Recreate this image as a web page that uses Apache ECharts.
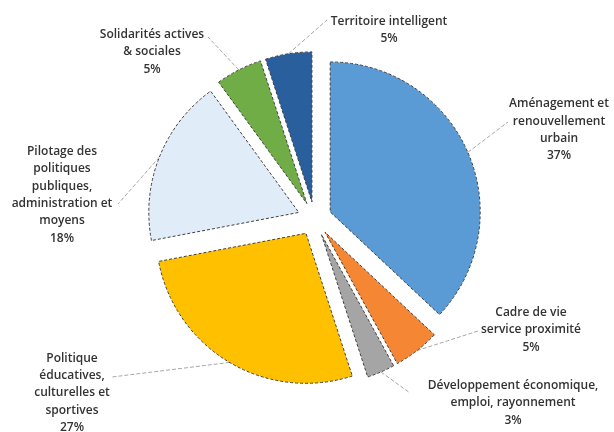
<!DOCTYPE html>
<html>
<head>
<meta charset="utf-8">
<script src="https://cdn.jsdelivr.net/npm/echarts@6/dist/echarts.min.js"></script>
<style>
  html, body { margin: 0; padding: 0; background: #fff; }
  #chart { width: 614px; height: 432px; }
</style>
</head>
<body>
<div id="chart"></div>
<script>
// categories, in clockwise order from 12 o'clock
const categories = [
  'Aménagement et\nrenouvellement\nurbain',
  'Cadre de vie\nservice proximité',
  'Développement économique,\nemploi, rayonnement',
  'Politique\néducatives,\nculturelles et\nsportives',
  'Pilotage des\npolitiques\npubliques,\nadministration et\nmoyens',
  'Solidarités actives\n& sociales',
  'Territoire intelligent'
]
// share in %
const values = [37, 5, 3, 27, 18, 5, 5]
const colors = ['#5B9BD5', '#F58634', '#A5A5A5', '#FFC000', '#E0ECF8', '#70AD47', '#2A5F9E']
// where each label sits (center of text block)
const labelPos = [
  [559, 130],
  [531, 330],
  [513, 403],
  [72, 393],
  [62, 195],
  [152, 52],
  [389, 30]
]
// where each leader line stops, next to its label
const lineEnd = [
  [508, 122],
  [478, 331],
  [410, 393],
  [112, 377],
  [118, 204],
  [208, 37],
  [327, 20]
]

const pieCenter = [314.6, 218.7]
const pieRadius = 150
const explode = 17

const chart = echarts.init(document.getElementById('chart'))

// each slice gets its own series so it can be pulled out from the center
const total = values.reduce((a, b) => a + b, 0)
let cum = 0
const series = values.map((v, i) => {
  const mid = (cum + v / 2) / total * Math.PI * 2
  cum += v
  const cx = pieCenter[0] + Math.sin(mid) * explode
  const cy = pieCenter[1] - Math.cos(mid) * explode
  return {
    type: 'pie',
    center: [cx, cy],
    radius: pieRadius,
    startAngle: 90,
    clockwise: true,
    silent: true,
    avoidLabelOverlap: false,
    emphasis: { disabled: true },
    labelLayout: function (params) {
      const p = labelPos[params.dataIndex]
      const e = lineEnd[params.dataIndex]
      const s = params.labelLinePoints ? params.labelLinePoints[0] : e
      return {
        x: p[0],
        y: p[1],
        align: 'center',
        verticalAlign: 'middle',
        labelLinePoints: [s, [(s[0] + e[0]) / 2, (s[1] + e[1]) / 2], e]
      }
    },
    data: categories.map((name, j) => {
      const own = j === i
      return {
        name: name,
        value: values[j],
        itemStyle: own
          ? { color: colors[j], borderColor: '#404040', borderWidth: 1, borderType: [3, 2] }
          : { color: 'rgba(0,0,0,0)', borderWidth: 0 },
        label: {
          show: own,
          position: 'outside',
          formatter: '{b}\n{c}%',
          color: '#333',
          fontFamily: 'Open Sans',
          fontWeight: 600,
          fontSize: 12,
          lineHeight: 17.3,
          align: 'center'
        },
        labelLine: {
          show: own,
          lineStyle: { color: '#a6a6a6', width: 1, type: [4, 2] }
        }
      }
    })
  }
})

chart.setOption({
  animation: false,
  series: series
})
</script>
</body>
</html>
